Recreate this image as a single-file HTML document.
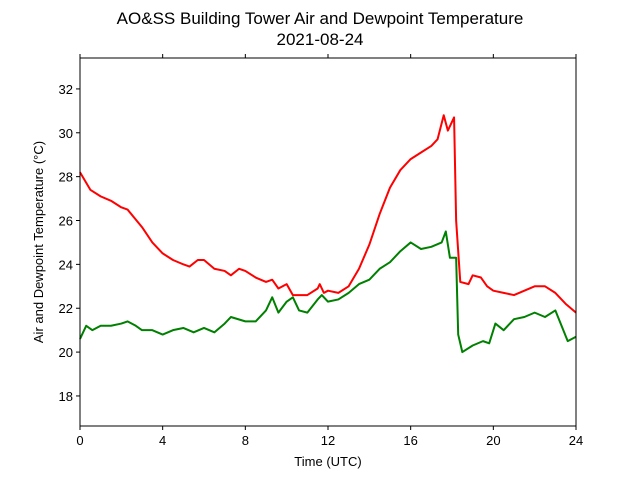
<!DOCTYPE html>
<html><head><meta charset="utf-8"><style>
body{margin:0;background:#fff;}
svg{font-family:"Liberation Sans","DejaVu Sans",sans-serif;}
</style></head><body>
<svg id="chart" width="640" height="480" xmlns="http://www.w3.org/2000/svg">
<text x="320" y="24" text-anchor="middle" font-size="17">AO&amp;SS Building Tower Air and Dewpoint Temperature</text>
<text x="320" y="45" text-anchor="middle" font-size="17">2021-08-24</text>
<text x="328" y="466" text-anchor="middle" font-size="13">Time (UTC)</text>
<text transform="translate(43,242) rotate(-90)" text-anchor="middle" font-size="13">Air and Dewpoint Temperature (°C)</text>
<g id="plot"></g>
</svg>
<script>
const xTicks=[0,4,8,12,16,20,24];
const yTicks=[18,20,22,24,26,28,30,32];
const airTimes=[0,0.5,1,1.5,2,2.3,3,3.5,4,4.5,5,5.3,5.7,6,6.5,7,7.3,7.7,8,8.5,9,9.3,9.6,10,10.3,10.6,11,11.5,11.6,11.8,12,12.5,13,13.5,14,14.5,15,15.5,16,16.5,17,17.3,17.6,17.8,18.1,18.2,18.4,18.8,19,19.4,19.7,20,20.5,21,21.5,22,22.5,23,23.5,24];
const airTemps=[28.2,27.4,27.1,26.9,26.6,26.5,25.7,25.0,24.5,24.2,24.0,23.9,24.2,24.2,23.8,23.7,23.5,23.8,23.7,23.4,23.2,23.3,22.9,23.1,22.6,22.6,22.6,22.9,23.1,22.7,22.8,22.7,23.0,23.8,24.9,26.3,27.5,28.3,28.8,29.1,29.4,29.7,30.8,30.1,30.7,26.0,23.2,23.1,23.5,23.4,23.0,22.8,22.7,22.6,22.8,23.0,23.0,22.7,22.2,21.8];
const dewTimes=[0,0.3,0.6,1,1.5,2,2.3,2.7,3,3.5,4,4.5,5,5.5,6,6.5,7,7.3,8,8.5,9,9.3,9.6,10,10.3,10.6,11,11.5,11.7,12,12.5,13,13.5,14,14.5,15,15.5,16,16.5,17,17.5,17.7,17.9,18.2,18.3,18.5,19,19.5,19.8,20.1,20.5,21,21.5,22,22.5,23,23.3,23.6,24];
const dewTemps=[20.6,21.2,21.0,21.2,21.2,21.3,21.4,21.2,21.0,21.0,20.8,21.0,21.1,20.9,21.1,20.9,21.3,21.6,21.4,21.4,21.9,22.5,21.8,22.3,22.5,21.9,21.8,22.4,22.6,22.3,22.4,22.7,23.1,23.3,23.8,24.1,24.6,25.0,24.7,24.8,25.0,25.5,24.3,24.3,20.8,20.0,20.3,20.5,20.4,21.3,21.0,21.5,21.6,21.8,21.6,21.9,21.2,20.5,20.7];
const L=80,R=576,T=58,B=426,xMin=0,xMax=24,yMin=16.63,yMax=33.41;
const xs=v=>L+(v-xMin)/(xMax-xMin)*(R-L);
const ys=v=>B-(v-yMin)/(yMax-yMin)*(B-T);
const g=document.getElementById('plot');
const NS='http://www.w3.org/2000/svg';
function mk(t,a){const e=document.createElementNS(NS,t);for(const k in a)e.setAttribute(k,a[k]);g.appendChild(e);return e;}
function line(times,vals,color,name){
  const p=mk('polyline',{points:times.map((t,i)=>xs(t)+','+ys(vals[i])).join(' '),fill:'none',stroke:color,'stroke-width':2,'stroke-linejoin':'round'});
  
  
}
line(airTimes,airTemps,'#ff0000','air-temperature-line');
line(dewTimes,dewTemps,'#008000','dewpoint-line');
xTicks.forEach(v=>{
  const x=xs(v);
  const t1=mk('line',{x1:x,x2:x,y1:B,y2:B+4,stroke:'#000'});
  
  
  const t2=mk('line',{x1:x,x2:x,y1:T,y2:T-4,stroke:'#000'});
  
  
  const tx=mk('text',{x:x,y:B+19,'text-anchor':'middle','font-size':13});
  tx.textContent=v;
  
  
});
yTicks.forEach(v=>{
  const y=ys(v);
  const t1=mk('line',{x1:L,x2:L-4,y1:y,y2:y,stroke:'#000'});
  
  
  const tx=mk('text',{x:L-7,y:y+5,'text-anchor':'end','font-size':13});
  tx.textContent=v;
  
  
});
const fr=mk('rect',{x:L,y:T,width:R-L,height:B-T,fill:'none',stroke:'#000','stroke-width':1});


</script>
</body></html>
